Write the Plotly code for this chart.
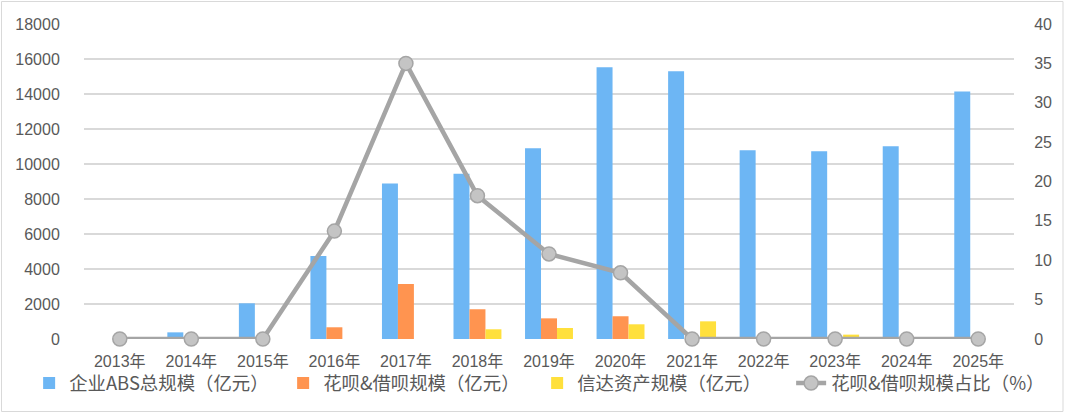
import plotly.graph_objects as go

years = ["2013年", "2014年", "2015年", "2016年", "2017年", "2018年", "2019年",
         "2020年", "2021年", "2022年", "2023年", "2024年", "2025年"]
abs_total = [0, 380, 2040, 4740, 8880, 9450, 10900, 15530, 15300, 10780, 10730, 11010, 14150]
huabei = [0, 0, 0, 670, 3140, 1700, 1180, 1300, 0, 0, 0, 0, 0]
xinda = [0, 0, 0, 0, 0, 555, 630, 840, 1010, 0, 250, 0, 0]
ratio = [0, 0, 0, 13.7, 35.0, 18.2, 10.8, 8.4, 0, 0, 0, 0, 0]

names = ["企业ABS总规模（亿元）", "花呗&借呗规模（亿元）", "信达资产规模（亿元）", "花呗&借呗规模占比（%）"]

FONT = "Liberation Sans, Arial, Noto Sans CJK SC, sans-serif"
TXT = "#595959"
GRID = "#D9D9D9"
CLEAR = "rgba(0,0,0,0)"

fig = go.Figure()
fig.add_trace(go.Bar(x=years, y=abs_total, name=names[0], marker=dict(color="#6DB6F4", line=dict(width=0))))
fig.add_trace(go.Bar(x=years, y=huabei, name=names[1], marker=dict(color="#FF9450", line=dict(width=0))))
fig.add_trace(go.Bar(x=years, y=xinda, name=names[2], marker=dict(color="#FFE03C", line=dict(width=0))))
fig.add_trace(go.Scatter(x=years, y=ratio, name=names[3], yaxis="y2", mode="lines+markers",
                         line=dict(color="#A5A5A5", width=4.5),
                         marker=dict(size=14, color="#C4C4C4", line=dict(color="#A5A5A5", width=1.5)),
                         cliponaxis=False))

fig.update_layout(
    width=1065, height=415,
    margin=dict(l=84, r=51, t=24, b=76, autoexpand=False),
    paper_bgcolor="white", plot_bgcolor="white",
    barmode="group", bargap=0.33, bargroupgap=0,
    font=dict(family=FONT, size=16, color=TXT),
    showlegend=True,
    legend=dict(orientation="h", x=-0.059, xanchor="left", y=-0.14, yanchor="middle",
                font=dict(family="Noto Sans CJK SC, sans-serif", size=18.4, color=TXT),
                bgcolor=CLEAR, tracegroupgap=0,
                entrywidth=209),
    xaxis=dict(type="category", range=[-0.5, len(years) - 0.5], showgrid=False, showline=False,
               ticks="", ticklabelstandoff=11,
               tickfont=dict(family="Liberation Sans, Noto Sans CJK SC", size=16, color=TXT),
               automargin=False),
    yaxis=dict(range=[0, 18000], dtick=2000, showgrid=True, gridcolor=GRID, gridwidth=1.5,
               zeroline=False, showline=False, ticks="outside", ticklen=20, tickcolor=CLEAR,
               tickformat="d", tickfont=dict(size=16, color=TXT), automargin=False),
    yaxis2=dict(range=[0, 40], dtick=5, overlaying="y", side="right", showgrid=False,
                zeroline=False, showline=False, ticks="outside", ticklen=16, tickcolor=CLEAR,
                tickfont=dict(size=16, color=TXT), automargin=False),
    shapes=[dict(type="rect", xref="paper", yref="paper",
                 x0=(1.5 - 84) / 930, x1=(1063 - 84) / 930,
                 y0=(339 - 411.5) / 315, y1=(339 - 1.5) / 315,
                 line=dict(color=GRID, width=1), fillcolor=CLEAR, layer="below")],
)

fig.write_html("out.html")
